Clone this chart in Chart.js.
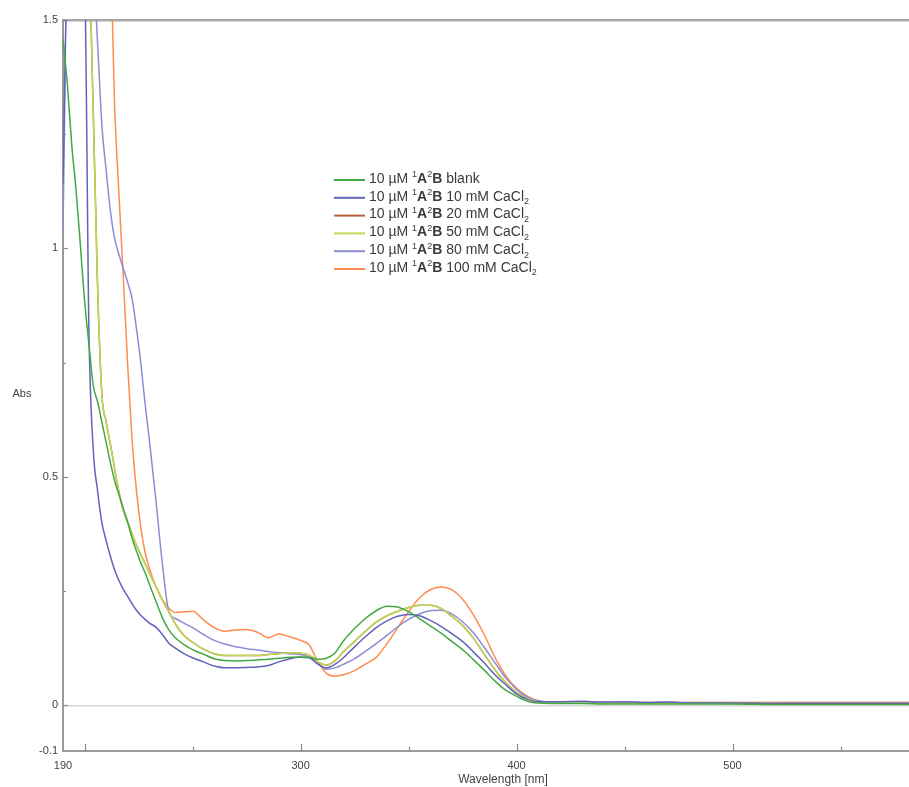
<!DOCTYPE html>
<html>
<head>
<meta charset="utf-8">
<script src="https://cdn.jsdelivr.net/npm/chart.js@4/dist/chart.umd.min.js"></script>
<style>
  html, body { margin: 0; padding: 0; background: #ffffff; }
  #wrap { width: 909px; height: 787px; }
</style>
</head>
<body>
<div id="wrap"><canvas id="c" width="909" height="787"></canvas></div>
<script>
// ---------- DATA ----------
const wavelengths = [190,192,194,196,198,200,202,204,206,208,210,212,214,216,218,220,222,224,226,228,230,233,236,239,242,246,250,255,260,265,270,275,280,285,290,295,300,304,308,312,316,320,325,330,335,340,345,350,355,360,365,370,375,380,385,390,395,400,405,410,420,430,440,450,460,470,480,500,520,540,560,582];

const absBlank = [1.46,1.36,1.23,1.13,1.01,0.885,0.79,0.70,0.665,0.62,0.575,0.53,0.49,0.46,0.43,0.40,0.365,0.338,0.312,0.29,0.265,0.228,0.192,0.165,0.148,0.133,0.122,0.112,0.102,0.098,0.097,0.098,0.099,0.101,0.103,0.105,0.106,0.105,0.101,0.103,0.115,0.142,0.168,0.19,0.207,0.217,0.215,0.205,0.19,0.174,0.158,0.14,0.122,0.10,0.077,0.053,0.033,0.02,0.009,0.005,0.004,0.004,0.003,0.003,0.003,0.003,0.003,0.003,0.002,0.002,0.002,0.002];

const abs10mM = [1.14,1.6,1.6,1.6,1.6,1.58,0.82,0.56,0.47,0.40,0.36,0.325,0.295,0.272,0.253,0.238,0.222,0.208,0.197,0.188,0.18,0.171,0.155,0.136,0.125,0.113,0.104,0.095,0.086,0.082,0.082,0.083,0.084,0.087,0.095,0.102,0.105,0.104,0.09,0.082,0.09,0.105,0.128,0.15,0.17,0.185,0.195,0.199,0.196,0.186,0.173,0.157,0.14,0.117,0.093,0.067,0.045,0.025,0.013,0.008,0.008,0.009,0.007,0.008,0.006,0.007,0.005,0.005,0.004,0.004,0.004,0.004];

const abs20mM = [1.6,1.6,1.6,1.6,1.6,1.6,1.6,1.3,0.92,0.68,0.62,0.57,0.515,0.465,0.425,0.40,0.375,0.35,0.33,0.31,0.29,0.26,0.23,0.205,0.178,0.153,0.138,0.123,0.113,0.109,0.109,0.109,0.109,0.111,0.113,0.115,0.114,0.11,0.095,0.088,0.098,0.118,0.14,0.162,0.182,0.196,0.206,0.214,0.219,0.219,0.212,0.195,0.175,0.147,0.112,0.078,0.05,0.028,0.015,0.008,0.006,0.006,0.006,0.006,0.006,0.006,0.006,0.006,0.006,0.006,0.006,0.006];

const abs50mM = [1.6,1.6,1.6,1.6,1.6,1.6,1.6,1.3,0.92,0.68,0.62,0.57,0.515,0.465,0.425,0.40,0.375,0.35,0.33,0.31,0.29,0.26,0.23,0.205,0.178,0.153,0.138,0.123,0.113,0.109,0.109,0.109,0.109,0.111,0.113,0.115,0.114,0.11,0.095,0.088,0.098,0.118,0.14,0.162,0.182,0.196,0.206,0.214,0.219,0.219,0.212,0.195,0.175,0.147,0.112,0.078,0.05,0.028,0.015,0.008,0.005,0.005,0.004,0.005,0.004,0.004,0.004,0.004,0.004,0.003,0.003,0.003];

const abs80mM = [1.04,1.6,1.6,1.6,1.6,1.6,1.6,1.6,1.45,1.27,1.17,1.08,1.02,0.985,0.955,0.925,0.89,0.825,0.75,0.66,0.58,0.45,0.31,0.205,0.19,0.18,0.17,0.155,0.142,0.134,0.128,0.124,0.121,0.118,0.115,0.113,0.111,0.105,0.092,0.079,0.082,0.09,0.102,0.118,0.135,0.153,0.172,0.188,0.2,0.207,0.208,0.2,0.183,0.159,0.127,0.093,0.06,0.035,0.018,0.01,0.006,0.006,0.005,0.005,0.005,0.005,0.005,0.004,0.004,0.004,0.004,0.004];

const abs100mM = [1.6,1.6,1.6,1.6,1.6,1.6,1.6,1.6,1.6,1.6,1.6,1.6,1.30,1.11,0.93,0.74,0.58,0.47,0.39,0.335,0.30,0.26,0.232,0.213,0.203,0.205,0.206,0.187,0.17,0.162,0.165,0.166,0.16,0.148,0.156,0.15,0.142,0.132,0.095,0.07,0.064,0.067,0.076,0.09,0.105,0.135,0.17,0.205,0.235,0.253,0.259,0.253,0.232,0.198,0.155,0.105,0.065,0.037,0.02,0.01,0.006,0.006,0.005,0.005,0.005,0.005,0.005,0.005,0.005,0.005,0.005,0.005];

const concentrations = ['blank', '10 mM', '20 mM', '50 mM', '80 mM', '100 mM'];
const seriesColors = ['#44a844', '#6262bc', '#b8623c', '#c0da55', '#8c8cd6', '#ff8c50'];
const seriesValues = [absBlank, abs10mM, abs20mM, abs50mM, abs80mM, abs100mM];

const xTickValues = [190, 200, 250, 300, 350, 400, 450, 500, 550];
const xTickLabels = ['190', '', '', '300', '', '400', '', '500', ''];
const yTickValues = [-0.1, 0, 0.25, 0.5, 0.75, 1, 1.25, 1.5];
const yTickLabels = ['-0.1', '0', '', '0.5', '', '1', '', '1.5'];

// ---------- CHART ----------
const FONT = '"Liberation Sans", Arial, sans-serif';

function fullLabel(i) {
  const conc = concentrations[i];
  return '10 µM ¹A²B ' + conc + (conc === 'blank' ? '' : ' CaCl₂');
}

const datasets = seriesValues.map((vals, i) => ({
  label: fullLabel(i),
  data: wavelengths.map((w, k) => ({ x: w, y: vals[k] })),
  borderColor: seriesColors[i],
  backgroundColor: seriesColors[i],
  borderWidth: 1.5,
  pointRadius: 0,
  fill: false,
  cubicInterpolationMode: 'monotone',
  order: i === 2 ? 10 : 0
}));

const decorPlugin = {
  id: 'decor',
  afterDraw(chart) {
    const ctx = chart.ctx;
    const ca = chart.chartArea;
    const xs = chart.scales.x, ys = chart.scales.y;
    ctx.save();
    // inward tick marks
    ctx.strokeStyle = '#8a8a8a';
    ctx.lineWidth = 1.2;
    xTickValues.forEach((v) => {
      if (v === xs.min) return;
      const px = Math.round(xs.getPixelForValue(v)) + 0.5;
      const len = (v % 100 === 0) ? 7 : 4;
      ctx.beginPath();
      ctx.moveTo(px, ca.bottom);
      ctx.lineTo(px, ca.bottom - len);
      ctx.stroke();
    });
    yTickValues.forEach((v, i) => {
      if (v === ys.min) return;
      const py = Math.round(ys.getPixelForValue(v)) + 0.5;
      const len = yTickLabels[i] ? 5 : 3;
      ctx.beginPath();
      ctx.moveTo(ca.left, py);
      ctx.lineTo(ca.left + len, py);
      ctx.stroke();
    });

    // axis titles
    ctx.fillStyle = '#444';
    ctx.font = '11px ' + FONT;
    ctx.textAlign = 'center';
    ctx.textBaseline = 'middle';
    ctx.fillText('Abs', 22, (ca.top + ca.bottom) / 2 + 8);
    ctx.font = '12px ' + FONT;
    ctx.fillText('Wavelength [nm]', (ca.left + ca.right) / 2 + 17, 780);

    // legend
    const lx0 = 334, lx1 = 365, tx = 369, y0 = 179, dy = 17.8;
    const fs = 14;
    const normal = fs + 'px ' + FONT;
    const bold = 'bold ' + fs + 'px ' + FONT;
    const small = Math.round(fs * 0.62) + 'px ' + FONT;
    ctx.textAlign = 'left';
    ctx.textBaseline = 'middle';
    concentrations.forEach((conc, i) => {
      const y = y0 + i * dy;
      ctx.strokeStyle = seriesColors[i];
      ctx.lineWidth = 2;
      ctx.beginPath();
      ctx.moveTo(lx0, y + 1);
      ctx.lineTo(lx1, y + 1);
      ctx.stroke();
      const parts = [
        { t: '10 µM ', f: normal, o: 0 },
        { t: '1', f: small, o: -4 },
        { t: 'A', f: bold, o: 0 },
        { t: '2', f: small, o: -4 },
        { t: 'B', f: bold, o: 0 },
        { t: ' ' + conc, f: normal, o: 0 }
      ];
      if (conc !== 'blank') {
        parts.push({ t: ' CaCl', f: normal, o: 0 });
        parts.push({ t: '2', f: small, o: 5 });
      }
      let x = tx;
      ctx.fillStyle = '#3a3a3a';
      parts.forEach(p => {
        ctx.font = p.f;
        ctx.fillText(p.t, x, y + p.o);
        x += ctx.measureText(p.t).width;
      });
    });
    ctx.restore();
  }
};

new Chart(document.getElementById('c'), {
  type: 'line',
  data: { datasets },
  options: {
    responsive: false,
    devicePixelRatio: 1,
    animation: false,
    layout: { padding: { top: 20, right: 0, left: 0, bottom: 0 } },
    plugins: { legend: { display: false }, tooltip: { enabled: false } },
    scales: {
      x: {
        type: 'linear',
        min: 190,
        max: 581.7,
        afterBuildTicks: (s) => { s.ticks = xTickValues.map(v => ({ value: v })); },
        afterFit: (s) => { s.height = 36; },
        ticks: {
          autoSkip: false,
          maxRotation: 0,
          padding: 8,
          color: '#444',
          font: { size: 11, family: FONT },
          callback: (v) => { const i = xTickValues.indexOf(v); return i >= 0 ? xTickLabels[i] : ''; }
        },
        grid: { display: false, drawTicks: false, tickLength: 0 },
        border: { display: true, color: '#9a9a9a', width: 2 }
      },
      y: {
        type: 'linear',
        min: -0.1,
        max: 1.5,
        afterBuildTicks: (s) => { s.ticks = yTickValues.map(v => ({ value: v })); },
        afterFit: (s) => { s.width = 63; },
        ticks: {
          autoSkip: false,
          padding: 5,
          color: '#444',
          font: { size: 11, family: FONT },
          callback: (v) => { const i = yTickValues.indexOf(v); return i >= 0 ? yTickLabels[i] : ''; }
        },
        grid: {
          drawTicks: false,
          color: (c) => c.tick && c.tick.value === 0 ? '#d6d6d6' : (c.tick && c.tick.value === 1.5 ? '#a8a8a8' : 'rgba(0,0,0,0)'),
          lineWidth: (c) => c.tick && c.tick.value === 1.5 ? 2.5 : 1.5
        },
        border: { display: true, color: '#9a9a9a', width: 2 }
      }
    }
  },
  plugins: [decorPlugin]
});
</script>
</body>
</html>
